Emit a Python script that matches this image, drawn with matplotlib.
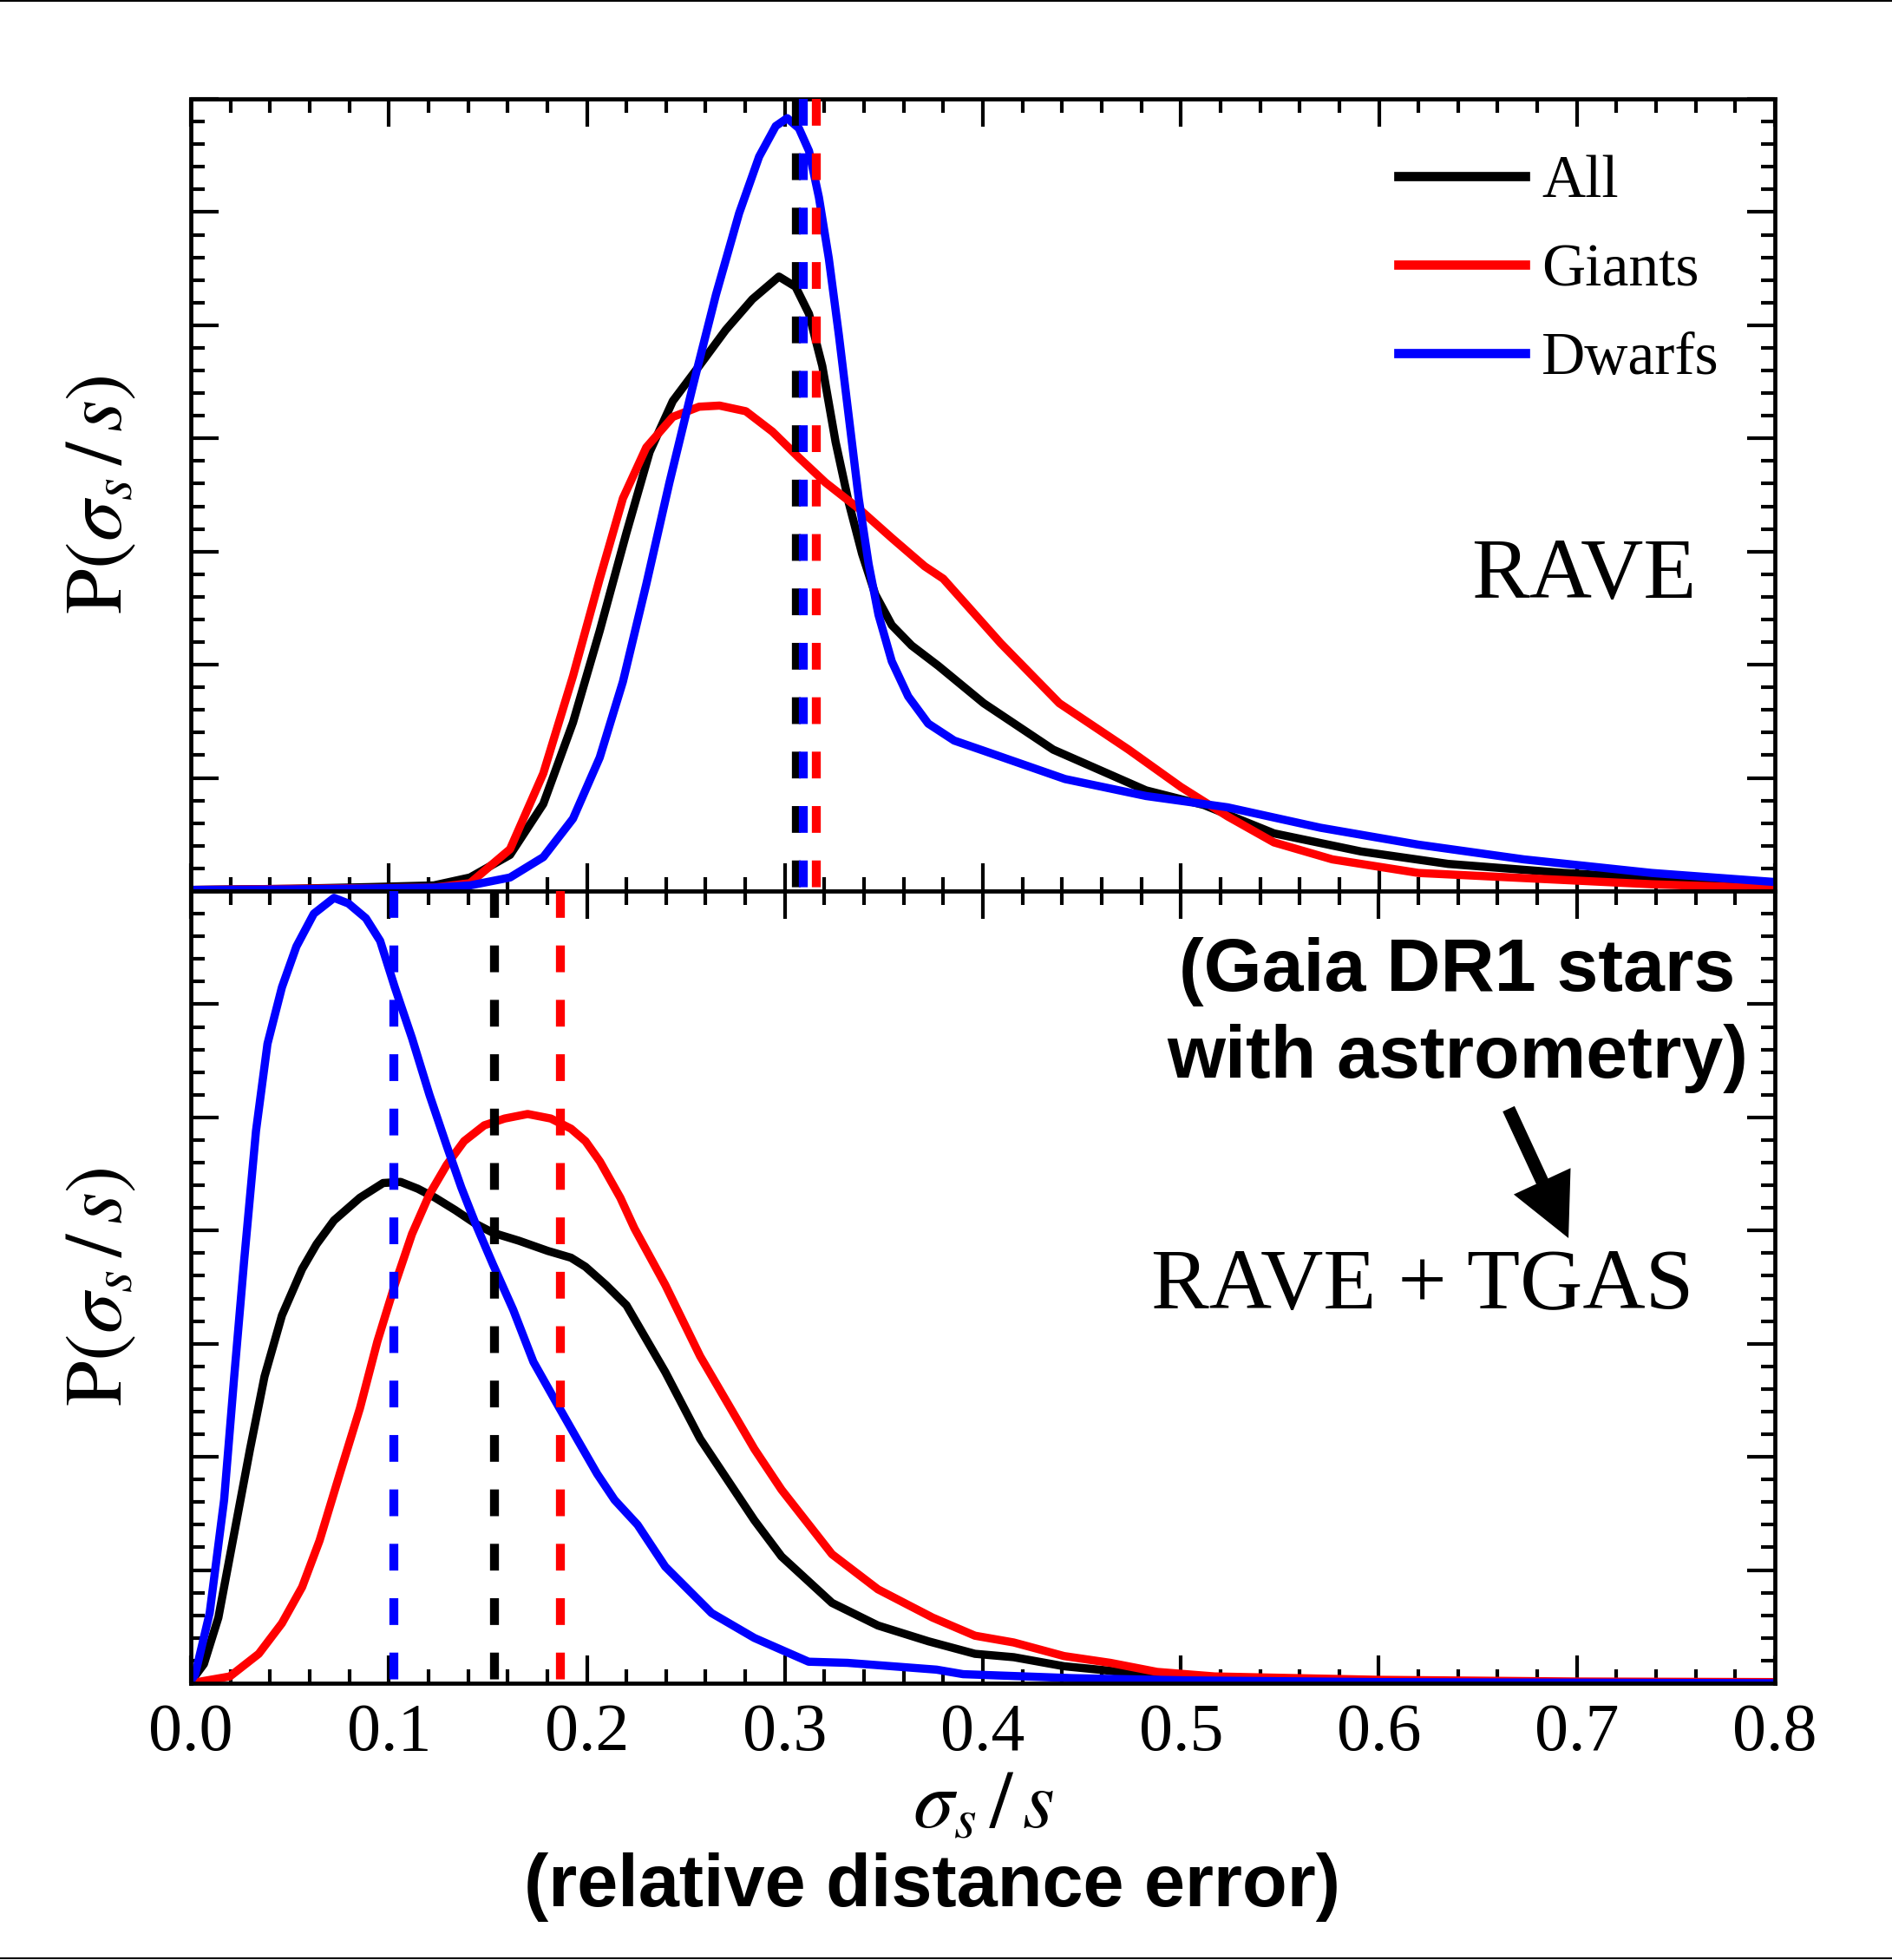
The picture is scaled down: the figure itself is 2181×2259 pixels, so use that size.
import matplotlib
matplotlib.use("Agg")
import matplotlib.pyplot as plt
from matplotlib.lines import Line2D
from matplotlib.ticker import MultipleLocator

plt.rcParams["font.family"] = ["Liberation Serif", "DejaVu Serif"]
plt.rcParams["mathtext.fontset"] = "stix"

# ---------------- RAVE (top panel) ----------------
rave_all_x = [0.0, 0.05, 0.09, 0.1227, 0.141, 0.1612, 0.178, 0.193, 0.2065, 0.2199, 0.2317,
              0.2434, 0.2567, 0.2702, 0.2836, 0.297, 0.3054, 0.3122, 0.3189, 0.3256, 0.3323,
              0.339, 0.3457, 0.354, 0.364, 0.3775, 0.4004, 0.4355, 0.4824, 0.5117, 0.547,
              0.591, 0.635, 0.6937, 0.7524, 0.8]
rave_all_y = [0.01, 0.02, 0.035, 0.05, 0.12, 0.32, 0.77, 1.49, 2.30, 3.16, 3.88,
              4.33, 4.64, 4.96, 5.23, 5.43, 5.34, 5.10, 4.64, 3.97, 3.43,
              2.98, 2.62, 2.35, 2.17, 1.99, 1.66, 1.25, 0.89, 0.76, 0.51,
              0.35, 0.24, 0.16, 0.10, 0.06]

rave_giants_x = [0.0, 0.05, 0.1227, 0.141, 0.1612, 0.178, 0.193, 0.2065, 0.2182, 0.23, 0.2434,
                 0.2567, 0.267, 0.2803, 0.2937, 0.3071, 0.3205, 0.3373, 0.354, 0.3706, 0.38,
                 0.409, 0.4386, 0.4736, 0.5, 0.5236, 0.547, 0.5765, 0.62, 0.679, 0.738, 0.8]
rave_giants_y = [0.01, 0.02, 0.03, 0.07, 0.37, 1.04, 1.90, 2.76, 3.47, 3.92, 4.19,
                 4.28, 4.29, 4.24, 4.06, 3.83, 3.61, 3.38, 3.12, 2.87, 2.76,
                 2.19, 1.66, 1.25, 0.92, 0.66, 0.43, 0.28, 0.16, 0.11, 0.06, 0.025]

rave_dwarfs_x = [0.0, 0.05, 0.1227, 0.141, 0.1612, 0.178, 0.193, 0.2065, 0.2182, 0.23, 0.2417,
                 0.2535, 0.2652, 0.2769, 0.287, 0.2954, 0.3012, 0.3071, 0.3122, 0.3172, 0.3222,
                 0.3273, 0.3323, 0.3373, 0.3423, 0.3473, 0.354, 0.3623, 0.3724, 0.3855, 0.4004,
                 0.4415, 0.4824, 0.5236, 0.5704, 0.62, 0.6732, 0.7378, 0.8]
rave_dwarfs_y = [0.01, 0.015, 0.03, 0.05, 0.12, 0.30, 0.64, 1.18, 1.85, 2.71, 3.61,
                 4.46, 5.27, 5.99, 6.49, 6.76, 6.83, 6.74, 6.54, 6.13, 5.59,
                 4.91, 4.19, 3.47, 2.89, 2.44, 2.03, 1.72, 1.48, 1.33, 1.24,
                 0.99, 0.84, 0.74, 0.56, 0.41, 0.28, 0.16, 0.08]

rave_medians = [0.3058, 0.3158, 0.3091]   # All, Giants, Dwarfs

# ---------------- RAVE + TGAS (bottom panel) ----------------
tgas_all_x = [0.0, 0.0007, 0.0066, 0.0139, 0.0226, 0.0299, 0.0372, 0.046, 0.0562, 0.0635,
              0.0723, 0.0854, 0.0971, 0.1059, 0.1146, 0.1234, 0.1336, 0.1438, 0.1526, 0.1657,
              0.1803, 0.192, 0.1993, 0.2096, 0.22, 0.2396, 0.2572, 0.2846, 0.2983, 0.3238,
              0.347, 0.3726, 0.396, 0.4156, 0.441, 0.4644, 0.484, 0.5036, 0.55, 0.6, 0.7, 0.8]
tgas_all_y = [0.0, 0.03, 0.17, 0.58, 1.39, 2.07, 2.71, 3.25, 3.66, 3.88,
              4.09, 4.29, 4.42, 4.43, 4.37, 4.29, 4.18, 4.06, 3.98, 3.91,
              3.82, 3.76, 3.68, 3.52, 3.34, 2.75, 2.16, 1.44, 1.12, 0.71,
              0.51, 0.37, 0.26, 0.23, 0.15, 0.11, 0.06, 0.04, 0.02, 0.01, 0.005, 0.0]

tgas_giants_x = [0.0, 0.0197, 0.0343, 0.046, 0.0562, 0.065, 0.0752, 0.0854, 0.0942, 0.103,
                 0.1117, 0.1205, 0.1292, 0.138, 0.1482, 0.1585, 0.1701, 0.1818, 0.192, 0.1993,
                 0.2066, 0.2169, 0.224, 0.2396, 0.2572, 0.2846, 0.2983, 0.3238, 0.347, 0.3746,
                 0.396, 0.4156, 0.441, 0.4644, 0.488, 0.517, 0.6, 0.7, 0.8]
tgas_giants_y = [0.0, 0.06, 0.26, 0.53, 0.85, 1.26, 1.85, 2.43, 3.02, 3.52,
                 3.97, 4.32, 4.58, 4.79, 4.93, 4.99, 5.03, 4.99, 4.90, 4.79,
                 4.61, 4.29, 4.02, 3.52, 2.89, 2.07, 1.71, 1.14, 0.83, 0.58,
                 0.42, 0.36, 0.24, 0.18, 0.10, 0.06, 0.03, 0.015, 0.01]

tgas_dwarfs_x = [0.0, 0.0022, 0.0095, 0.0168, 0.0219, 0.027, 0.0329, 0.0387, 0.046, 0.0533,
                 0.0621, 0.0723, 0.0796, 0.0884, 0.0956, 0.103, 0.1117, 0.1205, 0.1292, 0.1366,
                 0.1438, 0.1526, 0.1628, 0.173, 0.1862, 0.195, 0.2052, 0.214, 0.2256, 0.2396,
                 0.263, 0.2846, 0.312, 0.3316, 0.3766, 0.39, 0.445, 0.5036, 0.6, 0.7, 0.8]
tgas_dwarfs_y = [0.02, 0.08, 0.62, 1.62, 2.71, 3.75, 4.88, 5.65, 6.15, 6.51,
                 6.80, 6.94, 6.89, 6.76, 6.56, 6.15, 5.70, 5.20, 4.75, 4.38,
                 4.06, 3.70, 3.30, 2.84, 2.43, 2.16, 1.85, 1.62, 1.40, 1.03,
                 0.62, 0.40, 0.19, 0.18, 0.12, 0.08, 0.045, 0.025, 0.01, 0.005, 0.0]

tgas_medians = [0.1532, 0.1865, 0.1026]   # All, Giants, Dwarfs

labels = ["All", "Giants", "Dwarfs"]
colors = ["black", "red", "blue"]
x_ticks = [0.0, 0.1, 0.2, 0.3, 0.4, 0.5, 0.6, 0.7, 0.8]
x_tick_labels = ["0.0", "0.1", "0.2", "0.3", "0.4", "0.5", "0.6", "0.7", "0.8"]

W, H = 2181, 2259
fig = plt.figure(figsize=(W / 100, H / 100), dpi=100)

left, width = 220 / W, 1826 / W
ax_top = fig.add_axes([left, (H - 1027) / H, width, 913 / H])
ax_bot = fig.add_axes([left, (H - 1940) / H, width, 913 / H])

panels = [
    (ax_top, [(rave_all_x, rave_all_y), (rave_giants_x, rave_giants_y),
              (rave_dwarfs_x, rave_dwarfs_y)], rave_medians),
    (ax_bot, [(tgas_all_x, tgas_all_y), (tgas_giants_x, tgas_giants_y),
              (tgas_dwarfs_x, tgas_dwarfs_y)], tgas_medians),
]

for ax, curves, medians in panels:
    for (xs, ys), c in zip(curves, colors):
        ax.plot(xs, ys, color=c, lw=6.8, solid_joinstyle="round",
                solid_capstyle="round", zorder=2)
    for m, c in zip(medians, colors):
        ax.axvline(m, ymin=1, ymax=0, color=c, lw=7.4, linestyle=(0, (3.0, 3.1)),
                   dash_capstyle="butt", zorder=3)
    ax.set_xlim(0, 0.8)
    ax.set_ylim(0, 7)
    ax.xaxis.set_major_locator(MultipleLocator(0.1))
    ax.xaxis.set_minor_locator(MultipleLocator(0.02))
    ax.yaxis.set_major_locator(MultipleLocator(1))
    ax.yaxis.set_minor_locator(MultipleLocator(0.2))
    ax.tick_params(which="both", direction="in", top=True, right=True,
                   bottom=True, left=True, labelleft=False)
    ax.tick_params(which="major", length=23, width=3.0)
    ax.tick_params(which="minor", length=11.5, width=3.0)
    for sp in ax.spines.values():
        sp.set_linewidth(3.4)

ax_top.tick_params(labelbottom=False)
ax_bot.set_xticks(x_ticks)
ax_bot.set_xticklabels(x_tick_labels)
ax_bot.tick_params(axis="x", which="major", labelsize=56, pad=16)

# legend
handles = [Line2D([], [], color=c, lw=7.7) for c in colors]
ax_top.legend(handles, labels, loc="upper left", bbox_to_anchor=(0.7625, 0.929),
              frameon=False, fontsize=50, handlelength=2.1, handletextpad=0.27,
              labelspacing=0.55, borderpad=0, borderaxespad=0)

# panel labels
ax_top.text(0.9502, 0.3702, "RAVE", transform=ax_top.transAxes, ha="right",
            va="baseline", fontsize=72)
ax_bot.text(0.9485, 0.4732, "RAVE + TGAS", transform=ax_bot.transAxes, ha="right",
            va="baseline", fontsize=72)
ax_bot.text(0.7996, 0.874, "(Gaia DR1 stars", transform=ax_bot.transAxes, ha="center",
            va="baseline", fontsize=62, family="Liberation Sans", weight="bold")
ax_bot.text(0.7996, 0.7645, "with astrometry)", transform=ax_bot.transAxes, ha="center",
            va="baseline", fontsize=62, family="Liberation Sans", weight="bold")
ax_bot.annotate("", xy=(0.8697, 0.5619), xytext=(0.8319, 0.7251),
                xycoords="axes fraction", textcoords="axes fraction",
                arrowprops=dict(width=10.8, headwidth=52, headlength=52,
                                facecolor="black", edgecolor="none", shrink=0.0))

# axis labels
for ax_center in [(114 + 1027) / 2, (1027 + 1940) / 2]:
    fig.text(118 / W, 1 - ax_center / H, r"$\mathrm{P}(\sigma_s\,/\,s)$", rotation=90,
             ha="center", va="center", fontsize=68)
fig.text(1133 / W, 1 - 2106 / H, r"$\sigma_s\,/\,s$", ha="center", va="baseline", fontsize=68)
fig.text(1075 / W, 1 - 2197 / H, "(relative distance error)", ha="center", va="baseline",
         fontsize=61, family="Liberation Sans", weight="bold")

# thin rules along the top and bottom edges
fig.add_artist(Line2D([0, 1], [1 - 1 / H, 1 - 1 / H], transform=fig.transFigure,
                      color="black", lw=1.5))
fig.add_artist(Line2D([0, 1], [1 - 2257 / H, 1 - 2257 / H], transform=fig.transFigure,
                      color="black", lw=1.5))

fig.savefig("out.png", dpi=100)
